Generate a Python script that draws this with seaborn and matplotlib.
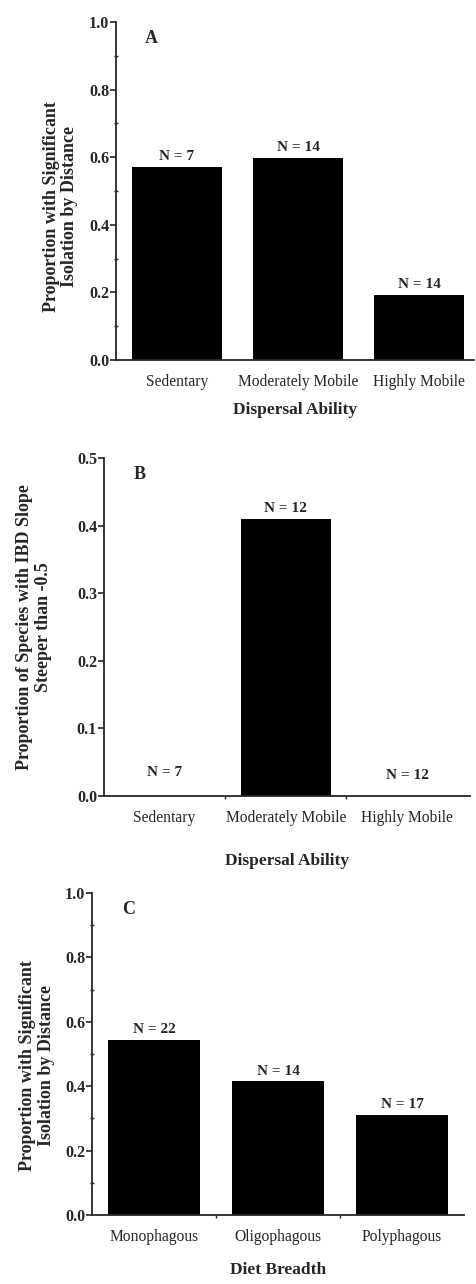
import matplotlib
matplotlib.use("Agg")
import matplotlib.pyplot as plt
import seaborn as sns
import pandas as pd
from matplotlib.ticker import MultipleLocator

# Panel A: significant IBD by dispersal ability
dispersal_cats = ["Sedentary", "Moderately Mobile", "Highly Mobile"]
prop_ibd_dispersal = [0.571, 0.598, 0.192]
n_dispersal_a = [7, 14, 14]

# Panel B: steep IBD slopes by dispersal ability
prop_steep_slope = [0.0, 0.41, 0.0]
n_dispersal_b = [7, 12, 12]

# Panel C: significant IBD by diet breadth
diet_cats = ["Monophagous", "Oligophagous", "Polyphagous"]
prop_ibd_diet = [0.545, 0.415, 0.31]
n_diet = [22, 14, 17]

sns.set_theme(style="ticks")
plt.rcParams["font.family"] = ["Liberation Serif", "DejaVu Serif"]
plt.rcParams["axes.linewidth"] = 1.3

W, H = 477, 1284
fig = plt.figure(figsize=(W / 100, H / 100), dpi=100)


def px_axes(left, right, top, bottom):
    return fig.add_axes([left / W, 1 - bottom / H, (right - left) / W, (bottom - top) / H])


def draw_panel(ax, cats, vals, ns, ymax, major, minor, letter, ylabel, xlabel,
               xlim_right, ylab_x, ylab_y, xlab_y, zero_label_h, boundary_ticks=True):
    df = pd.DataFrame({"cat": cats, "val": vals})
    sns.barplot(data=df, x="cat", y="val", order=cats, color="black",
                saturation=1, width=0.74, edgecolor="none", ax=ax)
    ax.set_xlim(-0.5, xlim_right)
    ax.set_ylim(0, ymax)
    sns.despine(ax=ax)
    ax.spines["left"].set_bounds(0, ymax)

    ax.yaxis.set_major_locator(MultipleLocator(major))
    if minor:
        ax.yaxis.set_minor_locator(MultipleLocator(minor))
        ax.tick_params(axis="y", which="minor", length=3, width=1.0, direction="inout")
    ax.tick_params(axis="y", which="major", length=4, width=1.2, direction="out",
                   labelsize=11.5, pad=1)
    ax.yaxis.set_major_formatter(plt.FuncFormatter(lambda v, p: f"{v:.1f}"))
    for t in ax.get_yticklabels():
        t.set_fontweight("bold")

    ax.set_xticks(range(len(cats)))
    ax.set_xticklabels(cats)
    ax.tick_params(axis="x", which="major", length=0, labelsize=11.2, pad=10)
    if boundary_ticks:
        ax.set_xticks([0.5, 1.5], minor=True)
        ax.tick_params(axis="x", which="minor", length=2.5, width=1.0, direction="out")

    for i, (v, n) in enumerate(zip(vals, ns)):
        y = v + ymax * 0.012 if v > 0 else zero_label_h[i]
        ax.text(i, y, f"N = {n}", ha="center", va="bottom",
                fontsize=11, fontweight="bold")

    ax.text(0.08, 0.95, letter, transform=ax.transAxes, ha="left", va="center",
            fontsize=13, fontweight="bold")

    ax.set_ylabel(ylabel, fontsize=13, fontweight="bold", linespacing=1.1)
    ax.yaxis.set_label_coords(ylab_x, ylab_y)
    ax.set_xlabel(xlabel, fontsize=12.5, fontweight="bold")
    ax.xaxis.set_label_coords(0.5, xlab_y)


ax_a = px_axes(116, 474, 22, 360)
draw_panel(ax_a, dispersal_cats, prop_ibd_dispersal, n_dispersal_a, 1.0, 0.2, 0.1, "A",
           "Proportion with Significant\nIsolation by Distance", "Dispersal Ability",
           2.45, -0.105, 0.455, -0.125, None, boundary_ticks=False)

ax_b = px_axes(104, 470, 458, 796)
draw_panel(ax_b, dispersal_cats, prop_steep_slope, n_dispersal_b, 0.5, 0.1, None, "B",
           "Proportion of Species with IBD Slope\nSteeper than -0.5", "Dispersal Ability",
           2.52, -0.143, 0.5, -0.17, [0.025, 0.0, 0.02])

ax_c = px_axes(92, 464, 893, 1215)
draw_panel(ax_c, diet_cats, prop_ibd_diet, n_diet, 1.0, 0.2, 0.1, "C",
           "Proportion with Significant\nIsolation by Distance", "Diet Breadth",
           2.5, -0.1, 0.463, -0.145, None)

fig.savefig("out.png", dpi=100, facecolor="white")
